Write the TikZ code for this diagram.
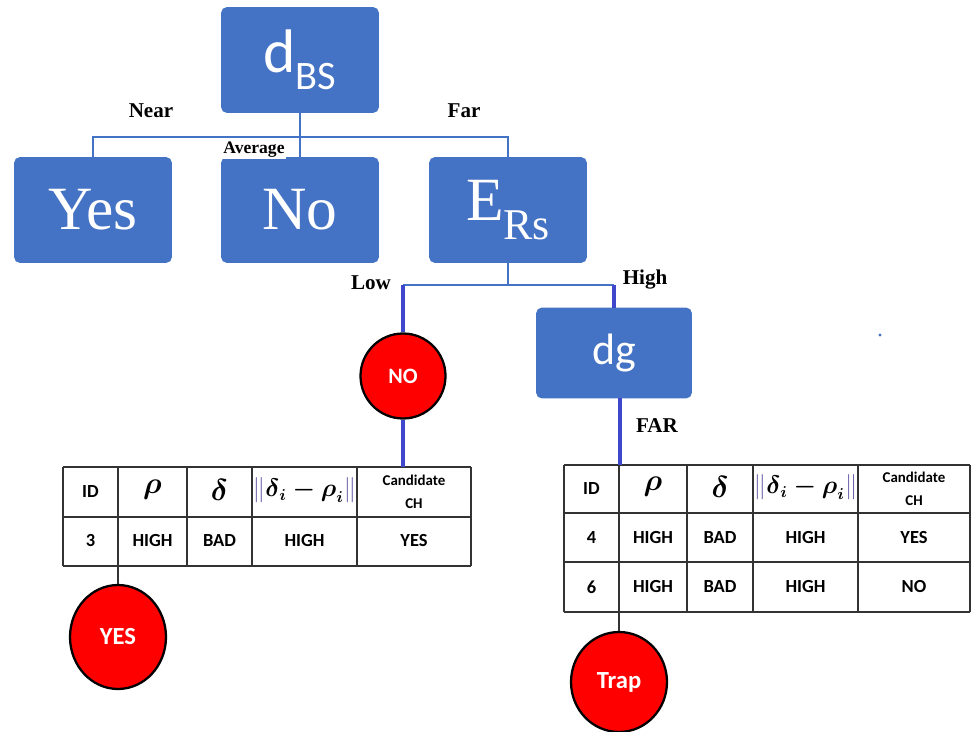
\documentclass[tikz,border=0pt]{standalone}
\usepackage{fontspec}
\usepackage{amsmath}
\setmainfont{Liberation Serif}
\newfontfamily\calibri{Carlito}
\usetikzlibrary{shapes.geometric}
\definecolor{boxblue}{HTML}{4472C4}
\definecolor{linkblue}{HTML}{3F48CC}
\definecolor{leafred}{HTML}{FF0000}
\definecolor{normbar}{HTML}{6A5FA8}

\newcommand{\normgap}{$\textcolor{normbar}{\|}\boldsymbol{\delta}_{\boldsymbol{i}}\boldsymbol{-}\boldsymbol{\rho}_{\boldsymbol{i}}\textcolor{normbar}{\|}$}

\tikzset{
  block/.style={fill=boxblue, draw=boxblue, rounded corners=3pt, text=white,
    minimum width=3.14cm, minimum height=2.1cm, inner sep=0pt},
  leaf/.style={ellipse, fill=leafred, draw=black, line width=1.3pt, text=white,
    font=\calibri\bfseries, inner sep=0pt},
  branch/.style={draw=boxblue, line width=0.9pt},
  heavy/.style={draw=linkblue, line width=2.6pt},
  rule/.style={draw=black!80, line width=1pt},
  lbl/.style={font=\bfseries\fontsize{12}{12}\selectfont},
  cell/.style={font=\calibri\bfseries\fontsize{10.5}{11}\selectfont, align=center},
  hdr/.style={font=\fontsize{18}{18}\selectfont},
}

\begin{document}
\begin{tikzpicture}[x=0.02cm, y=-0.02cm]
\useasboundingbox (0,0) rectangle (972,732);

% decision boxes
\node[block] (dbs) at (300,60) {\calibri\fontsize{35}{35}\selectfont d\raisebox{-0.28em}{\fontsize{23}{23}\selectfont BS}};
\node[block] (yes) at (93,210) {\fontsize{35}{35}\selectfont Yes};
\node[block] (no) at (300,210) {\fontsize{35}{35}\selectfont No};
\node[block] (ers) at (508,210) {\fontsize{35}{35}\selectfont E\raisebox{-0.3em}{\fontsize{25}{25}\selectfont Rs}};
\node[block, minimum width=3.1cm, minimum height=1.8cm] (dg) at (614,353) {\calibri\fontsize{25}{25}\selectfont dg};

\coordinate (top split) at (300,137);
\coordinate (low split) at (508,285);

% first split on d_BS
\draw[branch] (dbs.south) -- (no.north);
\draw[branch] (yes.north) -- (yes.north |- top split) -- (ers.north |- top split) -- (ers.north);
\node[lbl] at (151,111) {Near};
\node[lbl] at (464,111) {Far};
\node[lbl, font=\bfseries\fontsize{10}{10}\selectfont, fill=white, inner sep=1pt] at (254,150) {Average};

% second split on E_Rs
\node[leaf, minimum width=1.7cm, minimum height=1.7cm, font=\calibri\bfseries\fontsize{12.5}{12.5}\selectfont] (nocirc) at (403,376) {NO};
\coordinate (low drop) at (nocirc.north |- low split);
\coordinate (high drop) at (dg.north |- low split);
\draw[branch] (ers.south) -- (low split);
\draw[branch] (low drop) -- (high drop);
\draw[heavy] (low drop) -- (nocirc.north);
\draw[heavy] (high drop) -- (dg.north);
\node[lbl] at (371,283) {Low};
\node[lbl] at (645,280) {High};
\node[lbl] at (657,426) {FAR};

% left table
\coordinate (ltab top) at (nocirc.south |- 0,467);
\coordinate (ltab foot) at (118,566);
\foreach \x in {63,118,187,252,357,471}
  \draw[rule] (\x,467) -- (\x,566);
\foreach \y in {467,517,566}
  \draw[rule] (63,\y) -- (471,\y);
\draw[heavy] (nocirc.south) -- (ltab top);
\node[cell] at (90.5,492) {ID};
\node[hdr] at (152.5,490) {$\boldsymbol{\rho}$};
\node[hdr] at (219.5,490) {$\boldsymbol{\delta}$};
\node[font=\fontsize{13.5}{13.5}\selectfont] at (304.5,490) {\normgap};
\node[cell, font=\calibri\bfseries\fontsize{8.5}{13}\selectfont] at (414,492) {Candidate\\CH};
\node[cell] at (90.5,541) {3};
\node[cell] at (152.5,541) {HIGH};
\node[cell] at (219.5,541) {BAD};
\node[cell] at (304.5,541) {HIGH};
\node[cell] at (414,541) {YES};

% right table
\coordinate (rtab top) at (620,465);
\coordinate (rtab foot) at (619,612);
\foreach \x in {564,619,687,753,858,970}
  \draw[rule] (\x,465) -- (\x,612);
\foreach \y in {465,513,562,612}
  \draw[rule] (564,\y) -- (970,\y);
\draw[heavy] (dg.south -| rtab top) -- (rtab top);
\node[cell] at (591.5,489) {ID};
\node[hdr] at (653,487) {$\boldsymbol{\rho}$};
\node[hdr] at (720,487) {$\boldsymbol{\delta}$};
\node[font=\fontsize{13.5}{13.5}\selectfont] at (805.5,487) {\normgap};
\node[cell, font=\calibri\bfseries\fontsize{8.5}{13}\selectfont] at (914,489) {Candidate\\CH};
\node[cell] at (591.5,538) {4};
\node[cell] at (653,538) {HIGH};
\node[cell] at (720,538) {BAD};
\node[cell] at (805.5,538) {HIGH};
\node[cell] at (914,538) {YES};
\node[cell] at (591.5,587) {6};
\node[cell] at (653,587) {HIGH};
\node[cell] at (720,587) {BAD};
\node[cell] at (805.5,587) {HIGH};
\node[cell] at (914,587) {NO};

% outcomes below the tables
\node[leaf, minimum width=1.92cm, minimum height=2.08cm, font=\calibri\bfseries\fontsize{14}{14}\selectfont] (yescirc) at (118,637) {YES};
\node[leaf, minimum width=1.92cm, minimum height=2cm, font=\calibri\bfseries\fontsize{14}{14}\selectfont] (trap) at (619,682) {Trap};
\draw[rule] (ltab foot) -- (yescirc.north);
\draw[rule] (rtab foot) -- (trap.north);

\fill[boxblue] (880,335) circle (0.9pt);
\end{tikzpicture}
\end{document}
